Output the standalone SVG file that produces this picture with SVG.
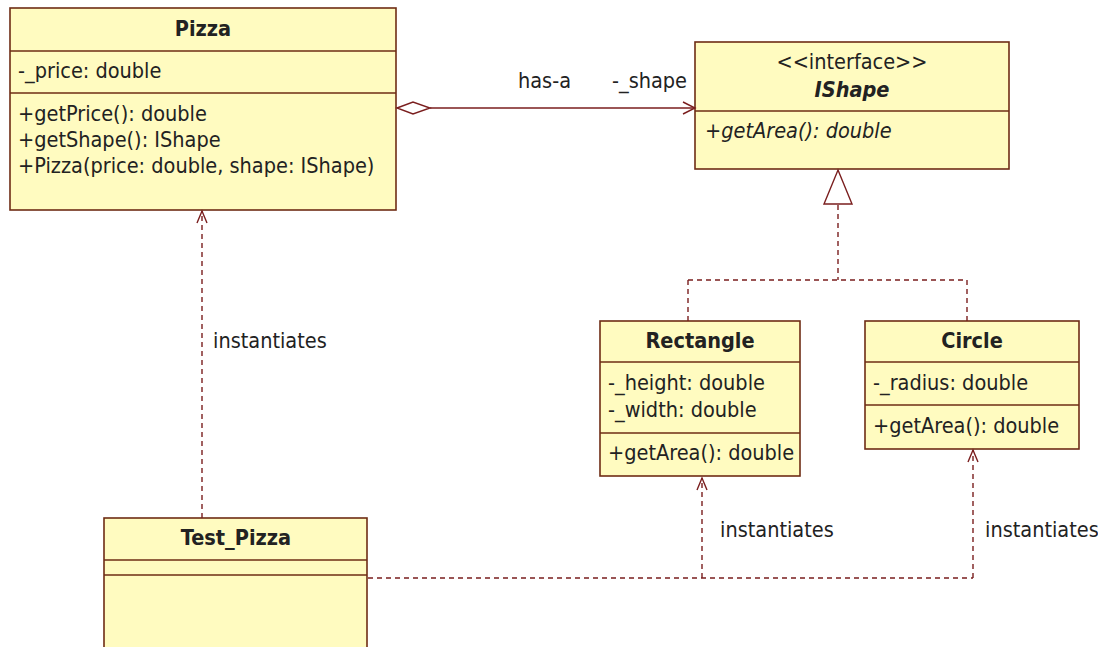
<svg xmlns="http://www.w3.org/2000/svg" width="1098" height="647" viewBox="0 0 1098 647">
<style>
.box{fill:#FFFBC0;stroke:#6E2C14;stroke-width:1.6}
.div{stroke:#6E2C14;stroke-width:1.6}
.t{font-family:"DejaVu Sans Condensed","DejaVu Sans",Verdana,sans-serif;font-stretch:condensed;font-size:21.5px;fill:#222}
.b{font-weight:bold;text-anchor:middle}
.c{text-anchor:middle}
.i{font-style:italic}
.con{fill:none;stroke:#7A1E1E;stroke-width:1.4}
.dash{stroke-dasharray:5 4}
</style>
<rect width="1098" height="647" fill="#FFFFFF"/>
<g id="Pizza">
<rect class="box" x="10" y="8" width="386" height="202"/>
<line class="div" x1="10" y1="51" x2="396" y2="51"/>
<line class="div" x1="10" y1="93" x2="396" y2="93"/>
<text class="t b" x="203" y="36">Pizza</text>
<text class="t" x="18" y="78">-_price: double</text>
<text class="t" x="18" y="121">+getPrice(): double</text>
<text class="t" x="18" y="147">+getShape(): IShape</text>
<text class="t" x="18" y="173">+Pizza(price: double, shape: IShape)</text>
</g>
<g id="IShape">
<rect class="box" x="695" y="42" width="314" height="127"/>
<line class="div" x1="695" y1="111" x2="1009" y2="111"/>
<text class="t c" x="852" y="69">&lt;&lt;interface&gt;&gt;</text>
<text class="t b i" x="852" y="97">IShape</text>
<text class="t i" x="705" y="138">+getArea(): double</text>
</g>
<g id="Rectangle">
<rect class="box" x="600" y="321" width="200" height="155"/>
<line class="div" x1="600" y1="362" x2="800" y2="362"/>
<line class="div" x1="600" y1="433" x2="800" y2="433"/>
<text class="t b" x="700" y="348">Rectangle</text>
<text class="t" x="608" y="390">-_height: double</text>
<text class="t" x="608" y="417">-_width: double</text>
<text class="t" x="608" y="460">+getArea(): double</text>
</g>
<g id="Circle">
<rect class="box" x="865" y="321" width="214" height="128"/>
<line class="div" x1="865" y1="362" x2="1079" y2="362"/>
<line class="div" x1="865" y1="405" x2="1079" y2="405"/>
<text class="t b" x="972" y="348">Circle</text>
<text class="t" x="873" y="390">-_radius: double</text>
<text class="t" x="873" y="433">+getArea(): double</text>
</g>
<g id="Test_Pizza">
<rect class="box" x="104" y="518" width="263" height="140"/>
<line class="div" x1="104" y1="560" x2="367" y2="560"/>
<line class="div" x1="104" y1="575" x2="367" y2="575"/>
<text class="t b" x="236" y="545">Test_Pizza</text>
</g>
<g id="connectors">
<path class="con" d="M397,108 L413,102 L430,108 L413,114 Z" fill="#FFFFFF"/>
<line class="con" x1="430" y1="108" x2="695" y2="108"/>
<path class="con" d="M683,102 L695,108 L683,114"/>
<text class="t" x="518" y="88">has-a</text>
<text class="t" x="612" y="88">-_shape</text>
<path class="con" d="M838,170 L852,204 L824,204 Z" fill="#FFFFFF"/>
<path class="con dash" d="M838,205 V280 M688,280 H967 M688,280 V321 M967,280 V321"/>
<path class="con dash" d="M202,518 V211"/>
<path class="con" d="M197,223 L202,211 L207,223"/>
<text class="t" x="213" y="348">instantiates</text>
<path class="con dash" d="M368,578 H973 M702,578 V478 M973,578 V450"/>
<path class="con" d="M697,490 L702,478 L707,490"/>
<path class="con" d="M968,462 L973,450 L978,462"/>
<text class="t" x="720" y="537">instantiates</text>
<text class="t" x="985" y="537">instantiates</text>
</g>
</svg>
